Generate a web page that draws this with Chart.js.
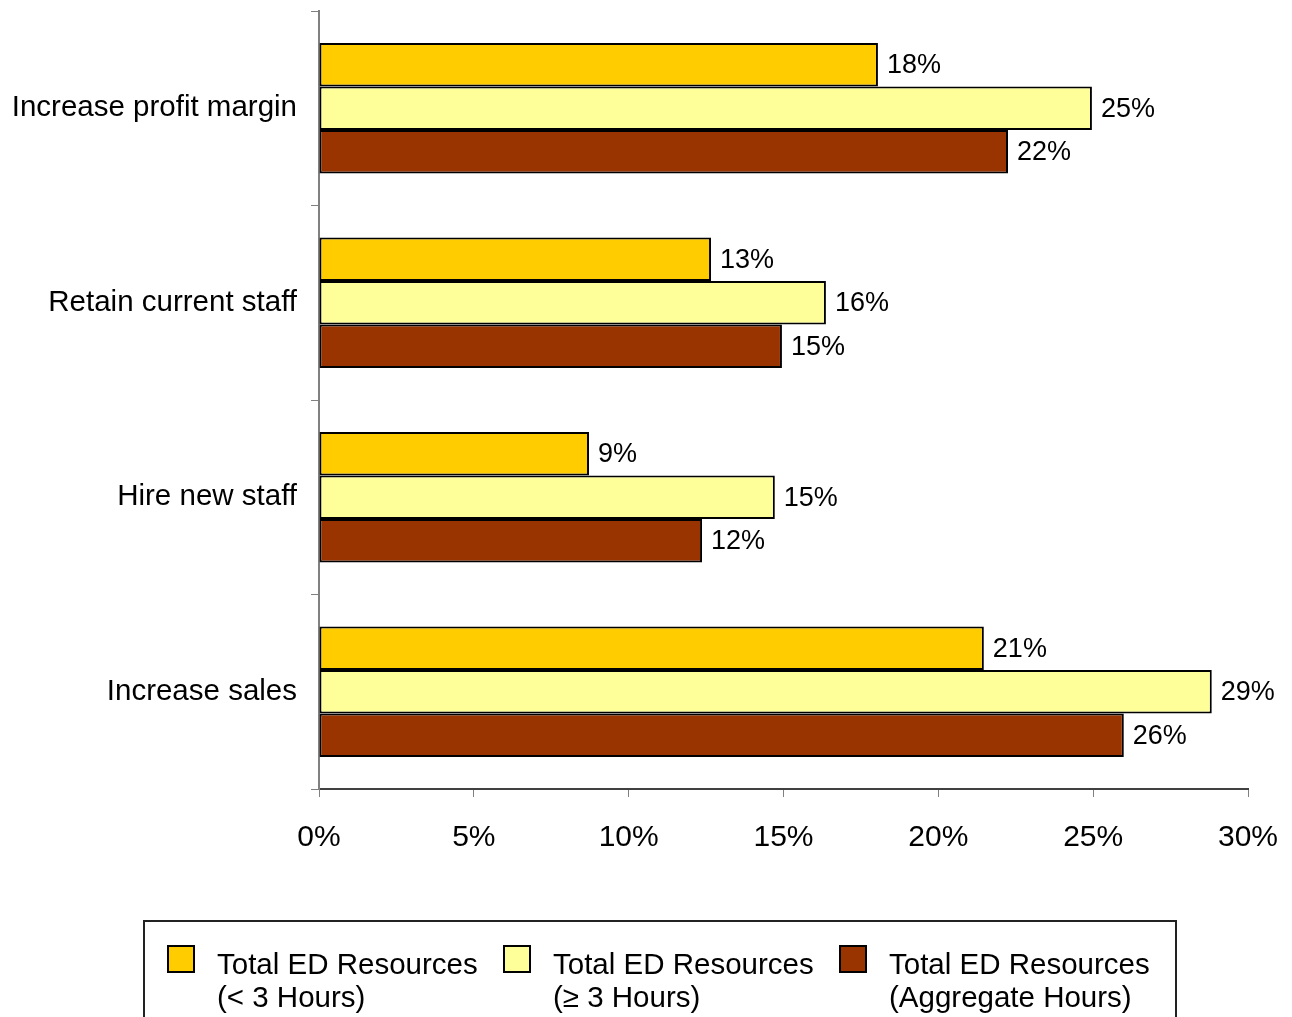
<!DOCTYPE html>
<html>
<head>
<meta charset="utf-8">
<script src="https://cdn.jsdelivr.net/npm/chart.js@4"></script>
<style>
    html, body { margin: 0; padding: 0; background: #fff; }
    #wrap { position: relative; width: 1292px; height: 1017px; }
</style>
</head>
<body>
<div id="wrap"><canvas id="edChart" width="1292" height="1017"></canvas></div>
<script>
// Chart data
const categories = ['Increase profit margin', 'Retain current staff', 'Hire new staff', 'Increase sales'];
const under3Hours = [18.05, 12.66, 8.72, 21.47];
const over3Hours = [24.96, 16.37, 14.72, 28.83];
const aggregateHours = [22.25, 14.95, 12.37, 25.99];
const under3Labels = ['18%', '13%', '9%', '21%'];
const over3Labels = ['25%', '16%', '15%', '29%'];
const aggregateLabels = ['22%', '15%', '12%', '26%'];
const legendLines = [
    ['Total ED Resources', '(< 3 Hours)'],
    ['Total ED Resources', '(\u2265 3 Hours)'],
    ['Total ED Resources', '(Aggregate Hours)']
];
const xTicks = [0, 5, 10, 15, 20, 25, 30];

const FONT = "'Liberation Sans', Arial, sans-serif";

// Value labels at end of each bar
const valueLabelPlugin = {
    id: 'valueLabels',
    afterDatasetsDraw(chart) {
        const ctx = chart.ctx;
        ctx.save();
        ctx.font = '27px ' + FONT;
        ctx.fillStyle = '#000';
        ctx.textAlign = 'left';
        ctx.textBaseline = 'middle';
        chart.data.datasets.forEach((ds, i) => {
            chart.getDatasetMeta(i).data.forEach((bar, j) => {
                ctx.fillText(ds.valueLabels[j], bar.x + 9, bar.y + 1);
            });
        });
        ctx.restore();
    }
};

// Boxed legend with two-line entries
const boxLegendPlugin = {
    id: 'boxLegend',
    afterDraw(chart) {
        const ctx = chart.ctx;
        ctx.save();
        ctx.strokeStyle = '#222';
        ctx.lineWidth = 2;
        ctx.strokeRect(144, 921, 1032, 120);
        const itemX = [168, 504, 840];
        chart.data.datasets.forEach((ds, i) => {
            const x = itemX[i];
            ctx.fillStyle = ds.backgroundColor;
            ctx.fillRect(x, 946, 26, 26);
            ctx.lineWidth = 2;
            ctx.strokeStyle = '#000';
            ctx.strokeRect(x, 946, 26, 26);
            ctx.fillStyle = '#000';
            ctx.font = '29.5px ' + FONT;
            ctx.textAlign = 'left';
            ctx.textBaseline = 'middle';
            ctx.fillText(ds.label[0], x + 49, 966);
            ctx.fillText(ds.label[1], x + 49, 999);
        });
        ctx.restore();
    }
};

const ctx = document.getElementById('edChart').getContext('2d');
const edChart = new Chart(ctx, {
    type: 'bar',
    data: {
        labels: categories,
        datasets: [{
            label: legendLines[0],
            data: under3Hours,
            valueLabels: under3Labels,
            backgroundColor: '#FFCC00'
        }, {
            label: legendLines[1],
            data: over3Hours,
            valueLabels: over3Labels,
            backgroundColor: '#FFFF99'
        }, {
            label: legendLines[2],
            data: aggregateHours,
            valueLabels: aggregateLabels,
            backgroundColor: '#993300'
        }]
    },
    plugins: [valueLabelPlugin, boxLegendPlugin],
    options: {
        indexAxis: 'y',
        responsive: false,
        animation: false,
        datasets: {
            bar: {
                borderColor: '#000',
                borderWidth: 2,
                borderSkipped: false,
                categoryPercentage: 0.67,
                barPercentage: 1.0
            }
        },
        layout: {
            padding: { top: 11, right: 44, bottom: 0, left: 0 }
        },
        plugins: {
            legend: { display: false },
            tooltip: { enabled: false }
        },
        scales: {
            x: {
                min: 0,
                max: 30,
                afterBuildTicks: (scale) => {
                    scale.ticks = xTicks.map(v => ({ value: v }));
                },
                afterFit: (scale) => {
                    scale.height = 228;
                    scale.paddingLeft = 0;
                    scale.paddingRight = 0;
                },
                grid: {
                    drawOnChartArea: false,
                    drawTicks: true,
                    tickLength: 8,
                    color: '#808080'
                },
                border: { color: '#404040', width: 2 },
                ticks: {
                    padding: 23,
                    color: '#000',
                    font: { family: FONT, size: 30 },
                    callback: (v) => v + '%'
                }
            },
            y: {
                afterFit: (scale) => {
                    scale.width = 319;
                    scale.paddingTop = 0;
                    scale.paddingBottom = 0;
                },
                grid: {
                    offset: true,
                    drawOnChartArea: false,
                    drawTicks: true,
                    tickLength: 8,
                    color: '#808080'
                },
                border: { color: '#808080', width: 2 },
                ticks: {
                    padding: 14,
                    color: '#000',
                    font: { family: FONT, size: 29.5 }
                }
            }
        }
    }
});
</script>
</body>
</html>
